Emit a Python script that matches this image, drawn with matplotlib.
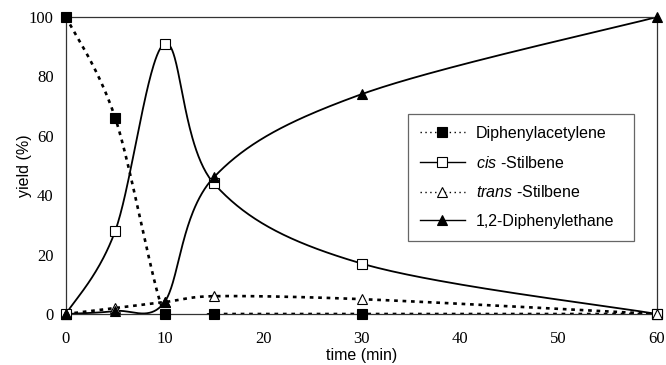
import matplotlib.pyplot as plt
import numpy as np

plt.rcParams['mathtext.fontset'] = 'custom'
plt.rcParams['mathtext.it'] = 'Liberation Sans:italic'
plt.rcParams['mathtext.rm'] = 'Liberation Sans'

# datos
tiempo = [0, 5, 10, 15, 30, 60]
difenilacetileno = [100, 66, 0, 0, 0, 0]
cis_estilbeno = [0, 28, 91, 44, 17, 0]
trans_estilbeno = [0, 2, 4, 6, 5, 0]
difeniletano = [0, 1, 4, 46, 74, 100]

nombres = ['Diphenylacetylene', '$\\mathit{cis}$ -Stilbene',
           '$\\mathit{trans}$ -Stilbene', '1,2-Diphenylethane']

# caja del grafico en pixeles (figura de 666x365)
x0, x1, y0, y1 = 66, 657, 17, 314
ancho, alto = x1 - x0, y1 - y0


def suavizar(x, y, n=60):
    # linea suavizada estilo Excel: bezier tipo catmull-rom (1/6) con el largo
    # de los puntos de control limitado a la mitad de cada tramo vecino
    sx, sy = ancho / 60, alto / 100
    P = np.column_stack([np.asarray(x, float) * sx, np.asarray(y, float) * sy])
    m = len(P)
    ctrl = np.zeros_like(P)
    for i in range(m):
        a = P[max(i - 1, 0)]
        b = P[min(i + 1, m - 1)]
        d = np.linalg.norm(b - a)
        if d == 0:
            continue
        largo = d / 6
        if i > 0:
            largo = min(largo, np.linalg.norm(P[i] - P[i - 1]) / 2)
        if i < m - 1:
            largo = min(largo, np.linalg.norm(P[i + 1] - P[i]) / 2)
        ctrl[i] = (b - a) / d * largo
    t = np.linspace(0, 1, n)[:, None]
    xs, ys = [], []
    for i in range(m - 1):
        p0, p3 = P[i], P[i + 1]
        c1 = p0 + ctrl[i]
        c2 = p3 - ctrl[i + 1]
        b = (1 - t)**3 * p0 + 3 * (1 - t)**2 * t * c1 + 3 * (1 - t) * t**2 * c2 + t**3 * p3
        xs.append(b[:, 0] / sx)
        ys.append(b[:, 1] / sy)
    return np.concatenate(xs), np.concatenate(ys)


fig = plt.figure(figsize=(6.66, 3.65), dpi=100)
ax = fig.add_axes([x0 / 666, 1 - y1 / 365, ancho / 666, alto / 365])

punteado = (0, (1.4, 1.8))
series = [
    (difenilacetileno, punteado, 's', 'black', 6.5),
    (cis_estilbeno, '-', 's', 'white', 6.5),
    (trans_estilbeno, punteado, '^', 'white', 7.5),
    (difeniletano, '-', '^', 'black', 7.5),
]

for (datos, estilo, marca, relleno, tam), nombre in zip(series, nombres):
    xs, ys = suavizar(tiempo, datos)
    lw = 1.9 if estilo == punteado else 1.3
    ax.plot(xs, ys, color='black', linestyle=estilo, linewidth=lw, zorder=2)
    ax.plot(tiempo, datos, linestyle='none', marker=marca, markersize=tam,
            markerfacecolor=relleno, markeredgecolor='black', markeredgewidth=0.8,
            clip_on=False, zorder=3)
    # entrada para la leyenda
    ax.plot([], [], color='black', linestyle=(0, (1, 2.5)) if estilo == punteado else '-',
            linewidth=1.0, marker=marca, markersize=tam, markerfacecolor=relleno,
            markeredgecolor='black', markeredgewidth=0.8, label=nombre)

ax.set_xlim(0, 60)
ax.set_ylim(0, 100)
ax.set_xticks([0, 10, 20, 30, 40, 50, 60])
ax.set_yticks([0, 20, 40, 60, 80, 100])
for lab in ax.get_xticklabels() + ax.get_yticklabels():
    lab.set_family('Liberation Serif')
    lab.set_fontsize(12)
ax.tick_params(axis='x', length=0, pad=12)
ax.tick_params(axis='y', length=0, pad=9)
for s in ax.spines.values():
    s.set_linewidth(0.9)
    s.set_color('#333333')

ax.set_ylabel('yield (%)', fontsize=11.5, family='Liberation Sans')
ax.yaxis.set_label_coords(-0.058, 0.5)
ax.set_xlabel('time (min)', fontsize=11.5, family='Liberation Sans')
ax.xaxis.set_label_coords(0.5, -0.115)

# caja de la leyenda: 408-634 x 114-244 px
lx, ly = (408 - x0) / ancho, (y1 - 244) / alto
lw_, lh_ = (634 - 408) / ancho, (244 - 114) / alto
leg = ax.legend(loc='upper left', bbox_to_anchor=(lx, ly, lw_, lh_), mode='expand',
                borderaxespad=0, frameon=True, fancybox=False, edgecolor='#666666',
                framealpha=1, handlelength=2.8, handletextpad=0.7, borderpad=0.75,
                labelspacing=0.85, prop={'family': 'Liberation Sans', 'size': 11.5})
leg.get_frame().set_linewidth(0.9)

plt.savefig('out.png', dpi=100)
